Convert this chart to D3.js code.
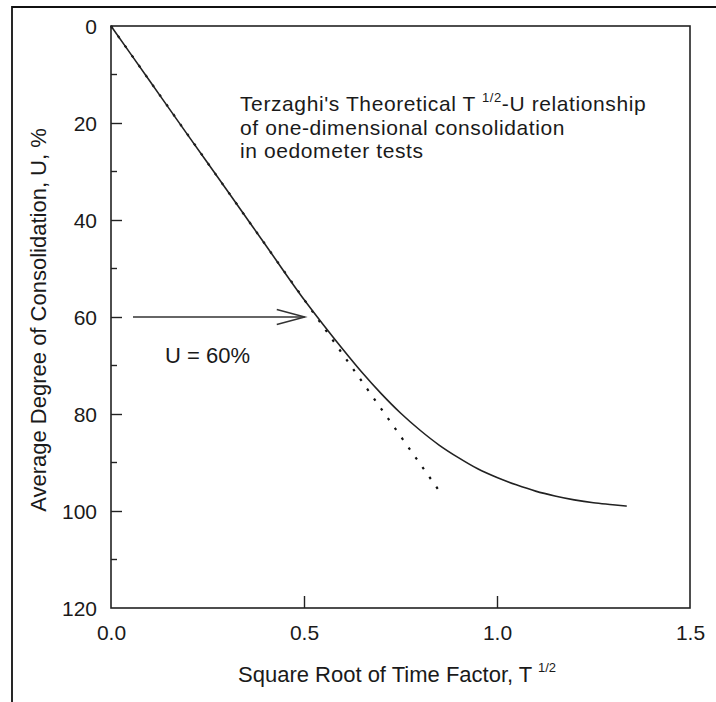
<!DOCTYPE html>
<html><head><meta charset="utf-8">
<script src="https://cdn.jsdelivr.net/npm/d3@7"></script>
<style>
html,body{margin:0;padding:0;background:#fff;}
svg{display:block;}
text{font-family:"Liberation Sans",Arial,Helvetica,sans-serif;fill:#1a1a1a;}
</style></head>
<body>
<svg id="chart" width="716" height="702"></svg>
<script>
// Data
const sqrtT = [0, 0.1, 0.2, 0.3, 0.4, 0.5, 0.55, 0.6, 0.65, 0.7, 0.75, 0.8, 0.85, 0.9, 0.95, 1.0, 1.05, 1.1, 1.15, 1.2, 1.25, 1.3, 1.336];
const U = [0, 11.3, 22.6, 33.8, 45.1, 56.4, 61.6, 66.6, 71.4, 75.8, 79.8, 83.3, 86.4, 89.0, 91.3, 93.1, 94.6, 95.9, 96.9, 97.7, 98.3, 98.7, 99.0];
const tangentT = [0, 0.848];
const tangentU = [0, 95.6];
const xTicks = [0, 0.5, 1.0, 1.5];
const yTicks = [0, 20, 40, 60, 80, 100, 120];
const yMinorTicks = [10, 30, 50, 70, 90, 110];
const arrowU = 60;
const arrowFrom = 0.057, arrowTo = 0.502;
const noteLines = ["of one-dimensional consolidation", "in oedometer tests"];

const svg = d3.select("#chart");
const L = 111, R = 690, T = 26, B = 608;
const x = d3.scaleLinear().domain([0, 1.5]).range([L, R]);
const y = d3.scaleLinear().domain([0, 120]).range([T, B]);
const FS = 22, TFS = 21;

// outer border (top and left)
svg.append("path").attr("d", "M12,702 L12,7 L716,7")
  .attr("fill", "none").attr("stroke", "#111").attr("stroke-width", 1.8);

// plot frame
svg.append("rect").attr("x", L).attr("y", T).attr("width", R - L).attr("height", B - T)
  .attr("fill", "none").attr("stroke", "#222").attr("stroke-width", 1.6);

// y axis major ticks (inside)
const yAxis = d3.axisLeft(y).tickValues(yTicks).tickSize(-11).tickFormat(d3.format("d"));
const gy = svg.append("g").attr("transform", `translate(${L},0)`).call(yAxis);
gy.select(".domain").remove();
gy.selectAll(".tick line").attr("stroke", "#222").attr("stroke-width", 1.4)
  .filter(d => d === 0 || d === 120).remove();
gy.selectAll(".tick text").attr("font-size", TFS).attr("fill", "#1a1a1a")
  .attr("x", -14).attr("dy", "0.36em")
  .style("font-family", '"Liberation Sans",Arial,sans-serif');
// minor y ticks
svg.append("g").selectAll("line").data(yMinorTicks).join("line")
  .attr("x1", L).attr("x2", L + 6).attr("y1", d => y(d)).attr("y2", d => y(d))
  .attr("stroke", "#222").attr("stroke-width", 1.4);

// x axis
const xAxis = d3.axisBottom(x).tickValues(xTicks).tickSize(-12).tickFormat(d3.format(".1f"));
const gx = svg.append("g").attr("transform", `translate(0,${B})`).call(xAxis);
gx.select(".domain").remove();
gx.selectAll(".tick line").attr("stroke", "#222").attr("stroke-width", 1.4)
  .filter(d => d === 0 || d === 1.5).remove();
gx.selectAll(".tick text").attr("font-size", TFS).attr("fill", "#1a1a1a")
  .attr("y", 32).attr("dy", 0)
  .style("font-family", '"Liberation Sans",Arial,sans-serif');

// tangent dotted line
const line = d3.line().x(d => x(d[0])).y(d => y(d[1]));
svg.append("path").datum(tangentT.map((t, i) => [t, tangentU[i]]))
  .attr("d", line).attr("fill", "none").attr("stroke", "#111")
  .attr("stroke-width", 2.2).attr("stroke-dasharray", "2.5,9.5");

// theoretical curve
svg.append("path").datum(sqrtT.map((t, i) => [t, U[i]]))
  .attr("d", d3.line().curve(d3.curveMonotoneX).x(d => x(d[0])).y(d => y(d[1])))
  .attr("fill", "none").attr("stroke", "#222").attr("stroke-width", 1.6);

// arrow
const ay = y(arrowU);
svg.append("line").attr("x1", x(arrowFrom)).attr("x2", x(arrowTo)).attr("y1", ay).attr("y2", ay)
  .attr("stroke", "#333").attr("stroke-width", 1.5);
svg.append("path")
  .attr("d", `M${x(arrowTo) - 28},${ay - 7.5} L${x(arrowTo)},${ay} L${x(arrowTo) - 28},${ay + 7.5}`)
  .attr("fill", "none").attr("stroke", "#333").attr("stroke-width", 1.5);
svg.append("text").attr("x", 165).attr("y", 363).attr("font-size", FS).text("U = 60%");

// annotation (three lines)
const NFS = 21, NLS = 0.6, lineGap = 23.6, y0 = 111;
const ann = svg.append("text").attr("x", 240).attr("y", y0).attr("font-size", NFS).attr("letter-spacing", NLS);
ann.append("tspan").text("Terzaghi's Theoretical T ");
ann.append("tspan").attr("font-size", 13).attr("dy", -9).text("1/2");
ann.append("tspan").attr("dy", 9).text("-U relationship");
noteLines.forEach((t, i) => svg.append("text").attr("x", 240).attr("y", y0 + lineGap * (i + 1))
  .attr("font-size", NFS).attr("letter-spacing", NLS).text(t));

// axis titles
const xt = svg.append("text").attr("x", 238).attr("y", 682).attr("font-size", FS);
xt.append("tspan").text("Square Root of Time Factor, T ");
xt.append("tspan").attr("font-size", 13).attr("dy", -10).text("1/2");

svg.append("text").attr("transform", "translate(46,320) rotate(-90)")
  .attr("text-anchor", "middle").attr("font-size", FS)
  .text("Average Degree of Consolidation, U, %");
</script>
</body></html>
